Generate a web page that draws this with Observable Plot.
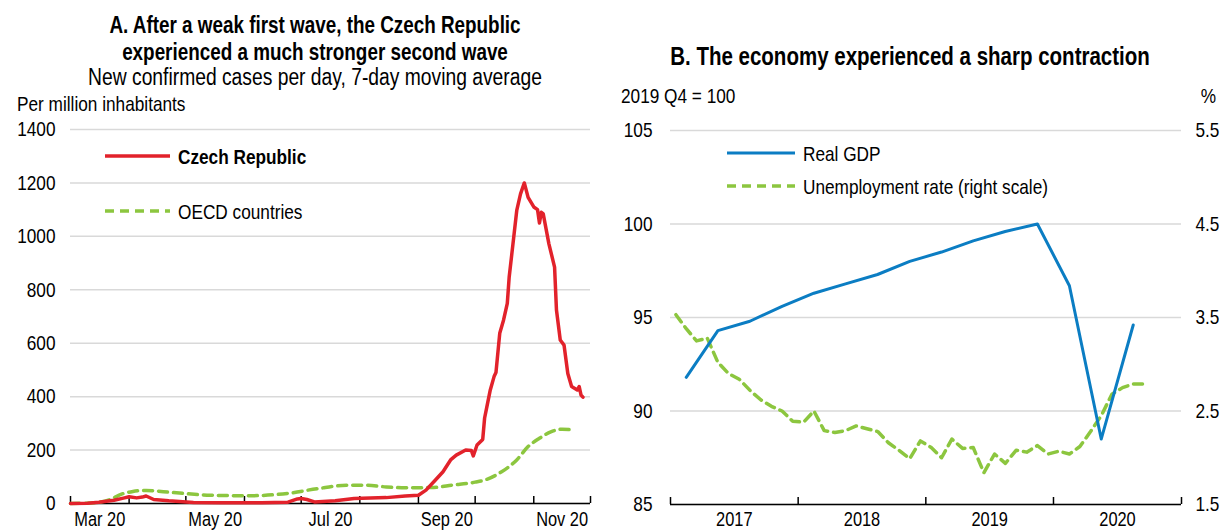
<!DOCTYPE html>
<html><head><meta charset="utf-8">
<script src="https://cdn.jsdelivr.net/npm/d3@7"></script>
<script src="https://cdn.jsdelivr.net/npm/@observablehq/plot@0.6"></script>
<style>
body{margin:0;background:#fff;}
#wrap{position:relative;width:1228px;height:530px;overflow:hidden;background:#fff;font-family:"Liberation Sans","Arial",sans-serif;color:#000;}
.t{position:absolute;white-space:nowrap;line-height:1;transform-origin:left center;transform:translateY(-50%) scaleX(0.82);z-index:5;}
.t.c{transform-origin:center center;transform:translate(-50%,-50%) scaleX(0.82);}
.t.r{transform-origin:right center;transform:translate(-100%,-50%) scaleX(0.82);}
.b{font-weight:bold;}
#A,#B{position:absolute;top:0;}
svg.lg{position:absolute;z-index:5;overflow:visible;}
</style></head><body>
<div id="wrap">
<div id="A" style="left:0"></div>
<div id="B" style="left:600px"></div>
</div>
<script>
// ---------- Panel A data ----------
const czDates = ["2020-03-01","2020-03-10","2020-03-16","2020-03-24","2020-03-29","2020-04-01","2020-04-05","2020-04-08","2020-04-10","2020-04-14","2020-04-22","2020-05-05","2020-05-20","2020-06-10","2020-06-24","2020-06-29","2020-07-01","2020-07-04","2020-07-08","2020-07-19","2020-07-29","2020-08-15","2020-08-25","2020-09-01","2020-09-05","2020-09-10","2020-09-14","2020-09-18","2020-09-21","2020-09-26","2020-09-29","2020-09-30","2020-10-02","2020-10-05","2020-10-06","2020-10-07","2020-10-09","2020-10-11","2020-10-12","2020-10-14","2020-10-16","2020-10-18","2020-10-19","2020-10-21","2020-10-23","2020-10-25","2020-10-27","2020-10-29","2020-11-01","2020-11-03","2020-11-04","2020-11-05","2020-11-06","2020-11-09","2020-11-12","2020-11-13","2020-11-15","2020-11-17","2020-11-19","2020-11-21","2020-11-24","2020-11-25","2020-11-26","2020-11-27"];
const czValues = [0,1,5,12,20,25,21,24,28,15,10,4,3,3,5,17,19,15,6,10,19,22,28,31,50,88,119,163,181,200,198,178,219,240,320,355,425,475,490,637,686,749,848,972,1097,1159,1200,1146,1110,1100,1050,1090,1084,972,885,724,612,593,487,438,425,438,406,398];

const oecdDates = ["2020-03-01","2020-03-14","2020-03-22","2020-03-28","2020-04-03","2020-04-10","2020-04-24","2020-05-14","2020-06-03","2020-06-24","2020-07-10","2020-07-25","2020-08-05","2020-08-15","2020-08-25","2020-09-09","2020-09-19","2020-10-01","2020-10-07","2020-10-15","2020-10-23","2020-10-29","2020-11-04","2020-11-10","2020-11-16","2020-11-22"];
const oecdValues = [0,3,15,35,45,49,41,31,29,38,56,68,68,62,59,60,69,80,90,119,163,213,244,268,278,275];

const aYTicks = [0,200,400,600,800,1000,1200,1400];
const aTickMonths = ["2020-03","2020-05","2020-07","2020-09","2020-11"];
const aTickLabels = ["Mar 20","May 20","Jul 20","Sep 20","Nov 20"];

// ---------- Panel B data ----------
const gdpQuarters = ["2017Q1","2017Q2","2017Q3","2017Q4","2018Q1","2018Q2","2018Q3","2018Q4","2019Q1","2019Q2","2019Q3","2019Q4","2020Q1","2020Q2","2020Q3"];
const gdpValues = [91.8,94.3,94.8,95.6,96.3,96.8,97.3,98.0,98.5,99.1,99.6,100,96.7,88.5,94.6];

const unempStart = "2017-01";
const unempValues = [3.53,3.38,3.25,3.28,3.02,2.90,2.84,2.72,2.62,2.55,2.50,2.39,2.38,2.50,2.29,2.27,2.29,2.34,2.31,2.28,2.16,2.08,1.99,2.18,2.11,2.00,2.20,2.10,2.11,1.84,2.04,1.94,2.08,2.06,2.13,2.04,2.07,2.04,2.12,2.28,2.45,2.68,2.75,2.79,2.79];

const bYTicks = [85,90,95,100,105];
const bRightTicks = ["1.5","2.5","3.5","4.5","5.5"];
const bYears = ["2017","2018","2019","2020"];

// ---------- Styles ----------
const RED = "#e2222b", GREEN = "#8cc63f", BLUE = "#0b7dc3", GRID = "#d9d9d9";
const FONT = '"Liberation Sans","Arial",sans-serif';
const NARROW = 0.82;
const style = {fontFamily: FONT, fontSize: "21px", color: "#000", background: "transparent", overflow: "visible"};

const parse = s => new Date(s + (s.length === 7 ? "-01" : "") + "T00:00:00Z");
const midMonth = s => { const a = parse(s), b = d3.utcMonth.offset(a, 1); return new Date((+a + +b) / 2); };

// ---------- Panel A ----------
const cz = czDates.map((d, i) => ({date: parse(d), v: czValues[i]}));
const oecd = oecdDates.map((d, i) => ({date: parse(d), v: oecdValues[i]}));
const aMonthTicks = d3.utcMonth.range(parse("2020-03-01"), parse("2020-12-02"));
const aLabels = aTickMonths.map((m, i) => ({x: midMonth(m), t: aTickLabels[i]}));
const hA = 530, mtA = 129, mbA = 27;

const plotA = Plot.plot({
  width: 600, height: hA, marginTop: mtA, marginBottom: mbA, marginLeft: 70, marginRight: 10,
  style,
  x: {type: "utc", domain: [parse("2020-03-01"), parse("2020-12-01")], axis: null},
  y: {domain: [0, 1400], axis: null},
  marks: [
    Plot.gridY(aYTicks, {stroke: GRID, strokeOpacity: 1, strokeWidth: 1.5}),
    Plot.axisY(aYTicks, {tickSize: 0, tickPadding: 15, label: null, fontSize: 21, tickFormat: d => String(d)}),
    Plot.ruleY([0], {stroke: "#000", strokeWidth: 1.5}),
    Plot.ruleX(aMonthTicks, {x: d => d, stroke: "#000", strokeWidth: 1.5, insetTop: hA - mtA - mbA - 7}),
    Plot.text(aLabels, {x: "x", y: () => 0, text: "t", dy: 16, fontSize: 20, fill: "#000"}),
    Plot.line(oecd, {x: "date", y: "v", stroke: GREEN, strokeWidth: 3.5, strokeDasharray: "9,6", curve: "monotone-x"}),
    Plot.line(cz, {x: "date", y: "v", stroke: RED, strokeWidth: 3.5, strokeLinejoin: "round", strokeLinecap: "round"})
  ]
});
document.getElementById("A").appendChild(plotA);

// ---------- Panel B ----------
const qStart = q => parse(q.slice(0, 4) + "-" + String((+q[5] - 1) * 3 + 1).padStart(2, "0"));
const gdp = gdpQuarters.map((q, i) => { const a = qStart(q), b = d3.utcMonth.offset(a, 3); return {date: new Date((+a + +b) / 2), v: gdpValues[i]}; });
const unemp = unempValues.map((v, i) => { const a = d3.utcMonth.offset(parse(unempStart), i), b = d3.utcMonth.offset(a, 1); return {date: new Date((+a + +b) / 2), u: v}; });
const toLeft = u => 85 + (u - 1.5) * 5; // right scale (1.5–5.5) mapped onto left scale (85–105)
const bYearTicks = d3.utcYear.range(parse("2017-01-01"), parse("2021-01-02"));
const bLabels = bYears.map(y => ({x: new Date((+parse(y + "-01-01") + +parse((+y + 1) + "-01-01")) / 2), t: y}));
const hB = 530, mtB = 130, mbB = 26;

const plotB = Plot.plot({
  width: 628, height: hB, marginTop: mtB, marginBottom: mbB, marginLeft: 70, marginRight: 47,
  style,
  x: {type: "utc", domain: [parse("2017-01-01"), parse("2021-01-01")], axis: null},
  y: {domain: [85, 105], axis: null},
  marks: [
    Plot.gridY(bYTicks, {stroke: GRID, strokeOpacity: 1, strokeWidth: 1.5}),
    Plot.axisY(bYTicks, {tickSize: 0, tickPadding: 18, label: null, fontSize: 21, tickFormat: d => String(d)}),
    Plot.axisY(bYTicks, {anchor: "right", tickSize: 0, tickPadding: 14, label: null, fontSize: 21, tickFormat: d => bRightTicks[bYTicks.indexOf(d)]}),
    Plot.ruleY([85], {stroke: "#000", strokeWidth: 1.5}),
    Plot.ruleX(bYearTicks, {x: d => d, stroke: "#000", strokeWidth: 1.5, insetTop: hB - mtB - mbB - 7}),
    Plot.text(bLabels, {x: "x", y: () => 85, text: "t", dy: 15, fontSize: 20, fill: "#000"}),
    Plot.line(unemp, {x: "date", y: d => toLeft(d.u), stroke: GREEN, strokeWidth: 3.5, strokeDasharray: "9,6", strokeLinejoin: "round"}),
    Plot.line(gdp, {x: "date", y: "v", stroke: BLUE, strokeWidth: 3, strokeLinejoin: "round"})
  ]
});
document.getElementById("B").appendChild(plotB);

// condense SVG texts to mimic a narrow typeface
for (const svg of [plotA, plotB]) {
  svg.querySelectorAll("text").forEach(el => {
    const len = el.getComputedTextLength();
    if (len > 0) {
      el.setAttribute("textLength", (len * NARROW).toFixed(2));
      el.setAttribute("lengthAdjust", "spacingAndGlyphs");
    }
  });
}

// ---------- Titles & legends ----------
const wrap = document.getElementById("wrap");
function addText(txt, x, y, opt = {}) {
  const d = document.createElement("div");
  d.className = "t" + (opt.center ? " c" : "") + (opt.right ? " r" : "") + (opt.bold ? " b" : "");
  d.style.left = x + "px"; d.style.top = y + "px";
  d.style.fontSize = (opt.size || 21) + "px";
  d.textContent = txt;
  wrap.appendChild(d);
}
function addLine(x1, x2, y, color, width, dash) {
  const ns = "http://www.w3.org/2000/svg";
  const s = document.createElementNS(ns, "svg");
  s.setAttribute("class", "lg");
  s.setAttribute("width", x2 - x1); s.setAttribute("height", 10);
  s.style.left = x1 + "px"; s.style.top = (y - 5) + "px";
  const l = document.createElementNS(ns, "line");
  l.setAttribute("x1", 0); l.setAttribute("x2", x2 - x1); l.setAttribute("y1", 5); l.setAttribute("y2", 5);
  l.setAttribute("stroke", color); l.setAttribute("stroke-width", width);
  if (dash) l.setAttribute("stroke-dasharray", dash);
  s.appendChild(l); wrap.appendChild(s);
}

addText("A. After a weak first wave, the Czech Republic", 315, 25, {center: true, bold: true, size: 23});
addText("experienced a much stronger second wave", 315, 52, {center: true, bold: true, size: 23});
addText("New confirmed cases per day, 7-day moving average", 315, 78, {center: true, size: 23.5});
addText("Per million inhabitants", 17, 103, {size: 21});

addLine(105, 170, 156, RED, 3.5);
addText("Czech Republic", 178, 156, {bold: true, size: 21});
addLine(105, 170, 211, GREEN, 3.5, "9,6");
addText("OECD countries", 178, 211, {size: 21});

addText("B. The economy experienced a sharp contraction", 910, 56, {center: true, bold: true, size: 25});
addText("2019 Q4 = 100", 621, 95, {size: 21});
addText("%", 1216, 95, {right: true, size: 21});

addLine(727, 795, 153, BLUE, 3);
addText("Real GDP", 803, 153, {size: 21});
addLine(727, 795, 186, GREEN, 3.5, "9,6");
addText("Unemployment rate (right scale)", 803, 186, {size: 21});
</script>
</body></html>
